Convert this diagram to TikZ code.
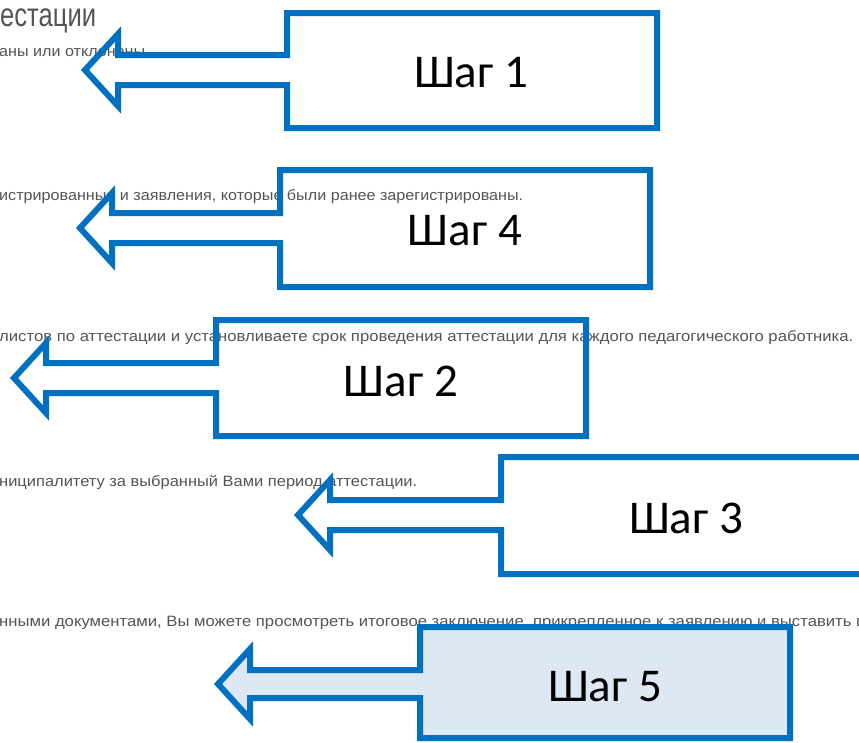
\documentclass[tikz,border=0pt]{standalone}
\usepackage{fontspec}
\usepackage{graphicx}
\setmainfont{Carlito}
\newfontfamily\bgfont{Liberation Sans}
\definecolor{callblue}{HTML}{0070C0}
\definecolor{callfill}{HTML}{DDE8F4}
\definecolor{bggray}{HTML}{555555}
\tikzset{
  callout/.style={draw=callblue, line width=6pt, miter limit=10, line join=miter},
  steplabel/.style={font=\fontsize{47}{47}\selectfont, text=black, inner sep=0pt},
  bgline/.style={anchor=base west, inner sep=0pt, text=bggray}
}
% #1 tip x, #2 centre y, #3 head back x, #4 head half, #5 shaft half, #6 L, #7 R, #8 T, #9 B
\newcommand\calloutpath[9]{%
  (#6,#8) -- (#7,#8) -- (#7,#9) -- (#6,#9) -- (#6,#2+#5) -- (#3,#2+#5) -- (#3,#2+#4)
  -- (#1,#2) -- (#3,#2-#4) -- (#3,#2-#5) -- (#6,#2-#5) -- cycle}
\newcommand\bgtxt[3]{\resizebox{#1pt}{\height}{\fontsize{#2}{#2}\bgfont #3}}
\begin{document}
\begin{tikzpicture}[x=1pt,y=-1pt]
\useasboundingbox (0,0) rectangle (859,742);
\begin{scope}
\clip (0,0) rectangle (859,742);
\fill[white] (0,0) rectangle (859,742);
% background screenshot text
\node[bgline] (t0) at (0,26) {\raisebox{0pt}[19pt][0pt]{\bgtxt{96}{33}{естации}}};
\node[bgline] (t1) at (-1,56) {\bgtxt{146}{15}{аны или отклонены}};
\node[bgline] (t2) at (-1,200) {\bgtxt{524}{15}{истрированные и заявления, которые были ранее зарегистрированы.}};
\node[bgline] (t3) at (-1,341) {\bgtxt{854}{15}{листов по аттестации и установливаете срок проведения аттестации для каждого педагогического работника.}};
\node[bgline] (t4) at (-1,486) {\bgtxt{418}{15}{ниципалитету за выбранный Вами период аттестации.}};
\node[bgline] (t5) at (-1,626) {\bgtxt{866}{15}{нными документами, Вы можете просмотреть итоговое заключение, прикрепленное к заявлению и выставить п}};
% callouts
\draw[callout] \calloutpath{85}{70}{118}{36}{15}{287}{657}{13}{128};
\node[steplabel] (s1) at (471,73) {Шаг 1};
\draw[callout] \calloutpath{80}{228}{112}{35}{15}{280}{650}{170}{287};
\node[steplabel] (s4) at (465,231) {Шаг 4};
\draw[callout] \calloutpath{14}{378}{46}{35}{15}{216}{586}{320}{436};
\node[steplabel] (s2) at (401,381) {Шаг 2};
\draw[callout] \calloutpath{298}{515}{330}{35}{15}{501}{871}{457}{574};
\node[steplabel] (s3) at (686,518) {Шаг 3};
\draw[callout, fill=callfill] \calloutpath{218}{684}{250}{35}{14}{420}{790}{627}{738};
\node[steplabel] (s5) at (605,687) {Шаг 5};
\end{scope}
\end{tikzpicture}
\end{document}
